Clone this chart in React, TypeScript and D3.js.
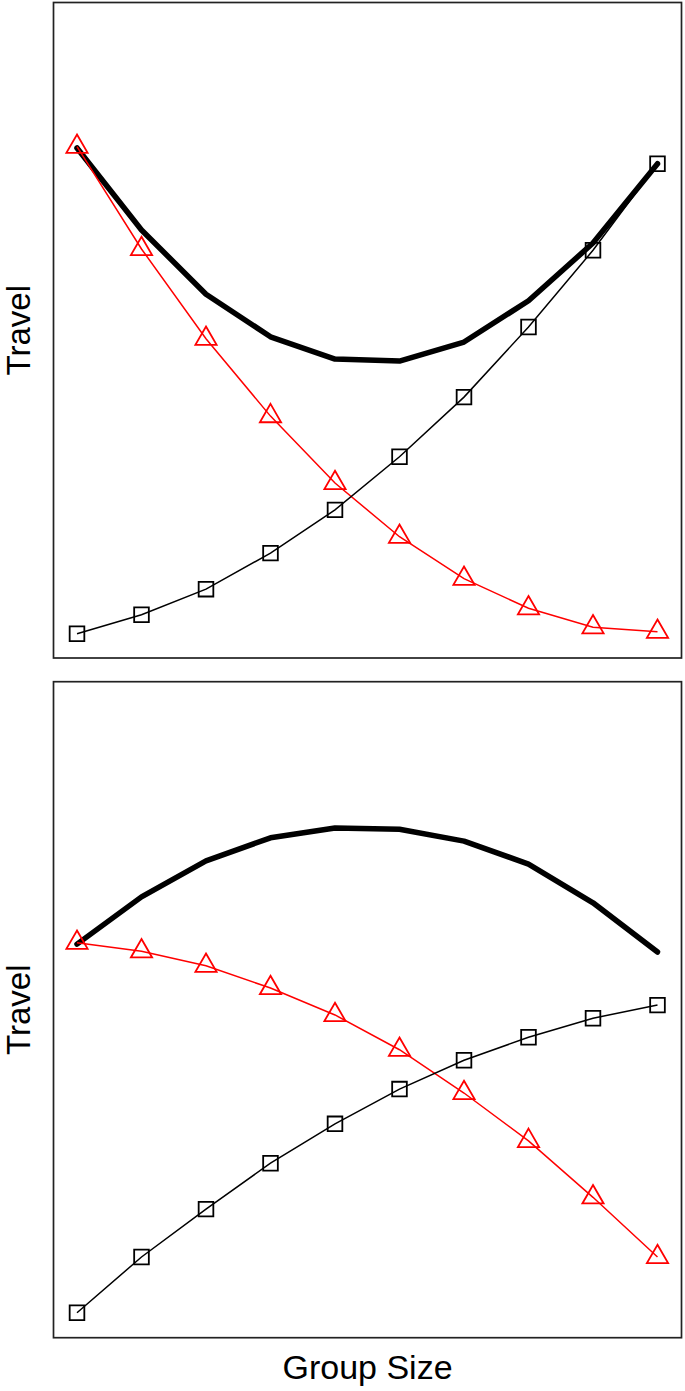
import React from 'react'
import * as d3 from 'd3'

// group sizes (x) and travel values, on a 0-100 scale per panel
const groupSizes = [1, 2, 3, 4, 5, 6, 7, 8, 9, 10]

const topTotal = [77.8, 65.3, 55.5, 49.0, 45.6, 45.3, 48.2, 54.5, 63.3, 75.4]
const topTriangles = [78.0, 62.4, 48.7, 36.9, 26.7, 18.5, 12.1, 7.6, 4.7, 4.0]
const topSquares = [3.7, 6.6, 10.5, 16.0, 22.6, 30.7, 39.8, 50.5, 62.2, 75.4]

const bottomTotal = [60.0, 67.2, 72.7, 76.2, 77.7, 77.5, 75.7, 72.2, 66.3, 58.8]
const bottomTriangles = [60.2, 58.9, 56.7, 53.3, 49.2, 43.9, 37.3, 30.0, 21.4, 12.3]
const bottomSquares = [3.8, 12.3, 19.6, 26.6, 32.6, 37.9, 42.3, 45.8, 48.7, 50.7]

const yLabel = 'Travel'
const xLabel = 'Group Size'

const W = 685
const H = 1391
const left = 53.5
const right = 681.5
const font = '"Liberation Sans", Arial, sans-serif'

const x = d3.scaleLinear().domain([1, 10]).range([77, 657.5])

const triangle = d3.symbol().type(d3.symbolTriangle).size(195)()
const square = d3.symbol().type(d3.symbolSquare).size(215)()

type PanelProps = {
  top: number
  bottom: number
  total: number[]
  tri: number[]
  sq: number[]
}

const Panel = ({ top, bottom, total, tri, sq }: PanelProps) => {
  const y = d3.scaleLinear().domain([0, 100]).range([bottom, top])
  const line = d3
    .line<number>()
    .x((_, i) => x(groupSizes[i]))
    .y((d) => y(d))

  return (
    <g>
      <path d={line(total)!} fill="none" stroke="#000" strokeWidth={5.5} strokeLinejoin="round" strokeLinecap="round" />
      <path d={line(tri)!} fill="none" stroke="#ff0000" strokeWidth={1.5} />
      <path d={line(sq)!} fill="none" stroke="#000" strokeWidth={1.5} />
      {tri.map((v, i) => (
        <path
          key={'t' + i}
          d={triangle}
          transform={`translate(${x(groupSizes[i])},${y(v)})`}
          fill="none"
          stroke="#ff0000"
          strokeWidth={1.8}
        />
      ))}
      {sq.map((v, i) => (
        <path
          key={'s' + i}
          d={square}
          transform={`translate(${x(groupSizes[i])},${y(v)})`}
          fill="none"
          stroke="#000"
          strokeWidth={1.8}
        />
      ))}
      <rect x={left} y={top} width={right - left} height={bottom - top} fill="none" stroke="#222" strokeWidth={1.7} />
      <text
        transform={`translate(30,${(top + bottom) / 2}) rotate(-90)`}
        textAnchor="middle"
        fontFamily={font}
        fontSize={33}
      >
        {yLabel}
      </text>
    </g>
  )
}

export default function App() {
  return (
    <svg
      width={W}
      height={H}
      style={{ position: 'absolute', left: 0, top: 0, background: '#fff' }}
    >
      <Panel top={2.5} bottom={658} total={topTotal} tri={topTriangles} sq={topSquares} />
      <Panel top={681.7} bottom={1337.7} total={bottomTotal} tri={bottomTriangles} sq={bottomSquares} />
      <text x={(left + right) / 2} y={1379} textAnchor="middle" fontFamily={font} fontSize={34}>
        {xLabel}
      </text>
    </svg>
  )
}
